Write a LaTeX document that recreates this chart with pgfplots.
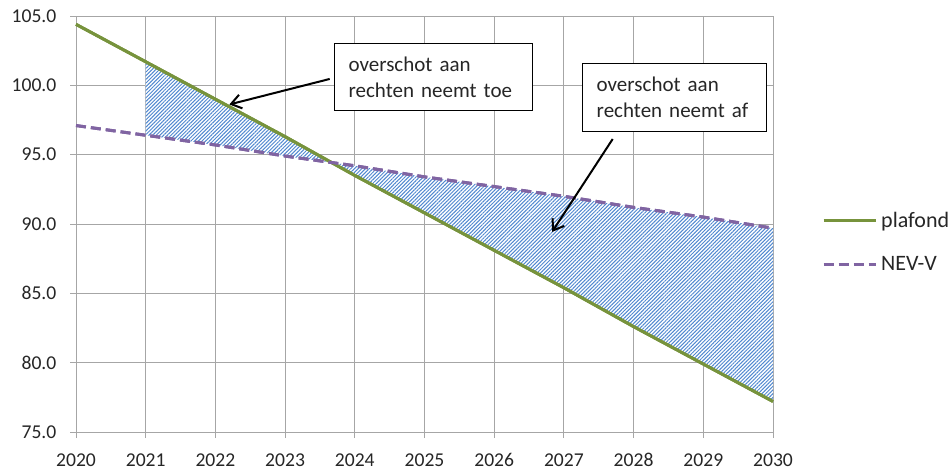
\documentclass[border=0pt]{standalone}
\usepackage{fontspec}
\setmainfont{Carlito}
\usepackage{pgfplots}
\pgfplotsset{compat=1.18}
\usepgfplotslibrary{fillbetween}
\usetikzlibrary{patterns.meta,arrows.meta}
\definecolor{plafondgreen}{HTML}{77933C}
\definecolor{nevpurple}{HTML}{8064A2}
\definecolor{hatchblue}{HTML}{5088D0}
\definecolor{gridgray}{HTML}{A6A6A6}
\definecolor{labelgray}{HTML}{262626}

\pgfplotstableread{
year plafond nev
2020 104.4 97.1
2021 101.7 96.4
2022 99.0 95.7
2023 96.3 94.9
2024 93.5 94.2
2025 90.8 93.4
2026 88.1 92.7
2027 85.4 92.0
2028 82.6 91.2
2029 79.9 90.5
2030 77.2 89.7
}\datatable

\begin{document}
\begin{tikzpicture}
\begin{axis}[
  at={(0,0)}, anchor=south west,
  scale only axis, width=348.5pt, height=208pt,
  xmin=2020, xmax=2030, ymin=75, ymax=105,
  xtick={2020,2021,...,2030},
  ytick={75,80,...,105},
  grid=major,
  grid style={gridgray, line width=0.5pt},
  axis line style={gridgray, line width=0.5pt},
  axis x line*=bottom, axis y line*=left,
  tick align=outside,
  major tick length=3pt,
  tick style={gridgray, line width=0.5pt},
  every tick label/.append style={font=\fontsize{9.8}{12}\selectfont, text=labelgray},
  /pgf/number format/assume math mode=true,
  xticklabel style={/pgf/number format/1000 sep={}, text height=7pt, text depth=0pt, yshift=-3.5pt},
  yticklabel style={/pgf/number format/.cd, fixed, fixed zerofill, precision=1, /tikz/xshift=-3.3pt},
  xtick pos=bottom, ytick pos=left,
  legend style={draw=none, fill=none, at={(1.07,0.54)}, anchor=north west,
    font=\fontsize{11}{13}\selectfont, row sep=9pt, inner sep=0pt, text=labelgray},
  legend cell align=left,
  legend image code/.code={\draw[#1] (0pt,0pt) -- (26pt,0pt);},
  clip=false,
]
\addplot[plafondgreen, line width=1.5pt, name path=A] table[x=year,y=plafond]{\datatable};
\addlegendentry{plafond}
\addplot[nevpurple, line width=1.5pt, dash pattern=on 5pt off 2.5pt, name path=B] table[x=year,y=nev]{\datatable};
\addlegendentry{NEV-V}
\addplot[draw=none, fill=white, forget plot]
  fill between[of=A and B, soft clip={domain=2021:2030}];
\addplot[draw=none, pattern={Lines[angle=45,distance=1.3pt,line width=0.5pt]}, pattern color=hatchblue, forget plot]
  fill between[of=A and B, soft clip={domain=2021:2030}];
% redraw lines on top
\addplot[plafondgreen, line width=1.5pt, forget plot] table[x=year,y=plafond]{\datatable};
\addplot[nevpurple, line width=1.5pt, dash pattern=on 5pt off 2.5pt, forget plot] table[x=year,y=nev]{\datatable};

\node[draw=black, line width=0.7pt, fill=white, anchor=north west, minimum width=99pt, minimum height=33.5pt,
  align=left, font=\fontsize{10.5}{13}\selectfont, inner xsep=7pt, text width=85pt, text=labelgray]
  at (axis cs:2023.70,103.05) {overschot aan\\rechten neemt toe};
\node[draw=black, line width=0.7pt, fill=white, anchor=north west, minimum width=92pt, minimum height=34pt,
  align=left, font=\fontsize{10.5}{13}\selectfont, inner xsep=7pt, text width=78pt, text=labelgray]
  at (axis cs:2027.26,101.61) {overschot aan\\rechten neemt af};
\draw[black, line width=1pt, -{Straight Barb[length=5pt,width=7pt]}] (axis cs:2023.64,100.46) -- (axis cs:2022.2,98.62);
\draw[black, line width=1pt, -{Straight Barb[length=5pt,width=7pt]}] (axis cs:2027.70,96.13) -- (axis cs:2026.83,89.43);
\end{axis}
\pgfresetboundingbox
\path[use as bounding box] (-38pt,-18pt) rectangle (438pt,216pt);
\end{tikzpicture}
\end{document}
